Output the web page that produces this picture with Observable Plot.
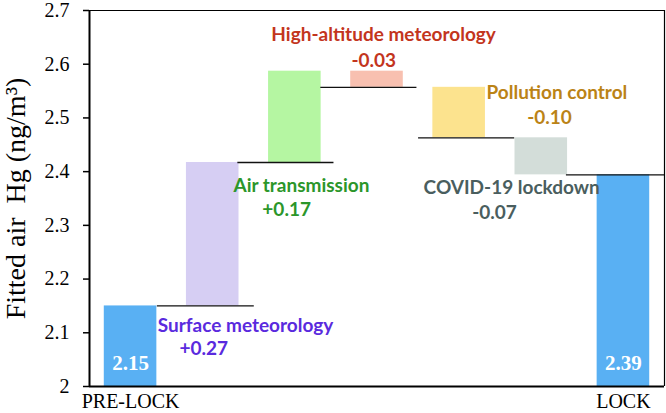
<!DOCTYPE html>
<html>
<head>
<meta charset="utf-8">
<script src="https://cdn.jsdelivr.net/npm/d3@7"></script>
<script src="https://cdn.jsdelivr.net/npm/@observablehq/plot@0.6"></script>
<style>
  html, body { margin: 0; padding: 0; background: #fff; }
  #chart { width: 666px; height: 413px; }
</style>
</head>
<body>
<div id="chart"></div>
<script>
// ---- data ----
const steps = ["PRE-LOCK", "Surface meteorology", "Air transmission", "High-altitude meteorology", "Pollution control", "COVID-19 lockdown", "LOCK"];
const startValue = 2.15;
const changes = [0.267, 0.17, -0.03, -0.094, -0.069];
const endValue = 2.394;
const changeLabels = ["+0.27", "+0.17", "-0.03", "-0.10", "-0.07"];
const totalLabels = ["2.15", "2.39"];
const yTicks = [2, 2.1, 2.2, 2.3, 2.4, 2.5, 2.6, 2.7];
const xTickLabels = ["PRE-LOCK", "LOCK"];

// ---- styles / layout ----
const barColors = ["#59b0f3", "#d6cef3", "#b5f6a2", "#f8c0b0", "#fce38e", "#d3ddd9", "#59b0f3"];
const labelColors = [null, "#5a2ade", "#2b962a", "#c3351d", "#bb8316", "#4a5e5e", null];
const half = 0.32;

// cumulative levels
const levels = [startValue];
changes.forEach(c => levels.push(levels[levels.length - 1] + c));

const bars = steps.map((s, i) => {
  if (i === 0) return {i, y1: 2, y2: startValue};
  if (i === steps.length - 1) return {i, y1: 2, y2: endValue};
  return {i, y1: levels[i - 1], y2: levels[i]};
});

// connector spans (index units) and which cumulative level they sit on
const connectorLayout = [
  {lvl: 0, a: 0.32, b: 1.50},
  {lvl: 1, a: 1.30, b: 2.47},
  {lvl: 3, a: 2.31, b: 3.48},
  {lvl: 4, a: 3.50, b: 4.67},
  {lvl: 5, a: 5.30, b: 6.50}
];
const connectors = connectorLayout.map(c => ({x1: c.a, x2: c.b, y: levels[c.lvl]}));

// label placement (index units, data units)
const nameLayout = [
  {k: 1, x: 1.40, y: 2.113, vx: 0.89, vy: 2.070},
  {k: 2, x: 2.08, y: 2.374, vx: 1.90, vy: 2.328},
  {k: 3, x: 3.08, y: 2.654, vx: 2.96, vy: 2.607},
  {k: 4, x: 5.19, y: 2.546, vx: 5.10, vy: 2.500},
  {k: 5, x: 4.64, y: 2.369, vx: 4.43, vy: 2.324}
];
const names = nameLayout.map(d => ({x: d.x, y: d.y, t: steps[d.k], c: labelColors[d.k]}));
const vals = nameLayout.map(d => ({x: d.vx, y: d.vy, t: changeLabels[d.k - 1], c: labelColors[d.k]}));
const totals = [{x: 0, t: totalLabels[0]}, {x: 6, t: totalLabels[1]}];

const serif = "'Liberation Serif', 'Times New Roman', serif";
const sans = "Lato, 'Open Sans', sans-serif";

const chart = Plot.plot({
  width: 666,
  height: 413,
  marginLeft: 89,
  marginRight: 2,
  marginTop: 10,
  marginBottom: 27,
  style: {fontFamily: serif, fontSize: "21px", background: "#fff", color: "#000"},
  x: {type: "linear", domain: [-0.5, 6.5]},
  y: {domain: [2, 2.7]},
  marks: [
    Plot.rect(bars, {x1: d => d.i - half, x2: d => d.i + half, y1: "y1", y2: "y2", fill: d => barColors[d.i]}),
    Plot.link(connectors, {x1: "x1", x2: "x2", y1: "y", y2: "y", stroke: "#111", strokeWidth: 1.3}),
    Plot.text(names, {x: "x", y: "y", text: "t", fill: d => d.c, fontFamily: sans, fontWeight: "bold", fontSize: 19}),
    Plot.text(vals, {x: "x", y: "y", text: "t", fill: d => d.c, fontFamily: sans, fontWeight: "bold", fontSize: 19}),
    Plot.text(totals, {x: "x", y: 2.043, text: "t", fill: "#fff", fontFamily: serif, fontWeight: "bold", fontSize: 21}),
    Plot.axisY({ticks: yTicks, tickFormat: d => String(+d.toFixed(1)), tickSize: 6, tickPadding: 14, label: null, fontSize: 20, strokeWidth: 1.5}),
    Plot.axisX({ticks: [0, 6], tickFormat: i => xTickLabels[i === 0 ? 0 : 1], tickSize: 0, tickPadding: 7, label: null, fontSize: 20}),
    Plot.ruleX([-0.5], {stroke: "#000", strokeWidth: 2}),
    Plot.ruleY([2], {stroke: "#000", strokeWidth: 2}),
    Plot.ruleY([2.7], {stroke: "#000", strokeWidth: 1.2}),
    Plot.ruleX([6.5], {stroke: "#000", strokeWidth: 1.2}),
    Plot.text(["Fitted air\u00a0 Hg (ng/m³)"], {frameAnchor: "left", rotate: -90, dx: -73, fontSize: 28, fontFamily: serif, lineAnchor: "middle", textAnchor: "middle", fill: "#000"})
  ]
});
document.getElementById("chart").appendChild(chart);
</script>
</body>
</html>
